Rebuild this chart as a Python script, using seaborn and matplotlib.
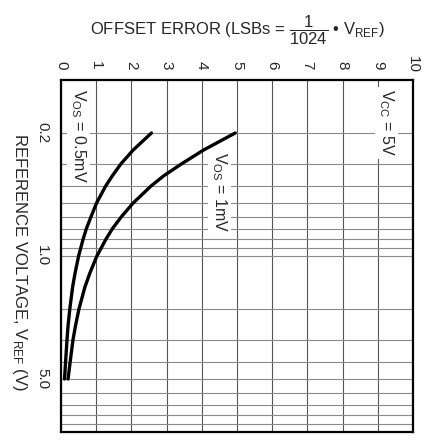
import matplotlib
matplotlib.use("Agg")
import matplotlib.pyplot as plt
import seaborn as sns
import pandas as pd

# ---- data ----
vref = [0.2, 0.25, 0.3, 0.35, 0.4, 0.5, 0.6, 0.7, 0.8, 1.0, 1.25, 1.5, 2.0, 2.5, 3.0, 4.0, 5.0]
err_05mv = [2.57, 2.05, 1.70, 1.46, 1.27, 1.01, 0.85, 0.72, 0.63, 0.50, 0.40, 0.33, 0.25, 0.20, 0.17, 0.13, 0.10]
err_1mv = [4.95, 4.05, 3.42, 2.92, 2.56, 2.05, 1.71, 1.46, 1.28, 1.02, 0.82, 0.68, 0.51, 0.41, 0.34, 0.26, 0.20]
x_ticks = [0, 1, 2, 3, 4, 5, 6, 7, 8, 9, 10]
y_grid = [0.2, 0.3, 0.4, 0.5, 0.6, 0.7, 0.8, 0.9, 1.0, 2, 3, 4, 5, 6, 7, 8, 9]
y_labeled = {0.2: "0.2", 1.0: "1.0", 5: "5.0"}

sns.set_style("white")
plt.rcParams["font.family"] = ["Liberation Sans", "DejaVu Sans"]
plt.rcParams["mathtext.fontset"] = "custom"
plt.rcParams["mathtext.rm"] = "Liberation Sans"
plt.rcParams["mathtext.it"] = "Liberation Sans"
plt.rcParams["mathtext.sf"] = "Liberation Sans"
plt.rcParams["mathtext.default"] = "regular"

df = pd.concat([
    pd.DataFrame({"vref": vref, "err": err_05mv, "s": "0.5mV"}),
    pd.DataFrame({"vref": vref, "err": err_1mv, "s": "1mV"}),
])

fig = plt.figure(figsize=(4.27, 4.42), dpi=100)
ax = fig.add_axes([61 / 427, 1 - 432 / 442, (413 - 61) / 427, (432 - 80) / 442])

sns.lineplot(data=df, x="err", y="vref", hue="s", palette=["black", "black"],
             sort=False, estimator=None, linewidth=2.4, legend=False, ax=ax, zorder=5)

ax.set_yscale("log")
ax.set_ylim(10, 0.1)
ax.set_xlim(0, 10)

ax.set_yticks(y_grid)
ax.set_yticklabels([y_labeled.get(v, "") for v in y_grid], rotation=270, fontsize=11,
                   va="center", ha="center")
ax.yaxis.set_minor_locator(matplotlib.ticker.NullLocator())
ax.tick_params(axis="y", length=0, pad=13.7)

ax.xaxis.tick_top()
ax.set_xticks(x_ticks)
ax.set_xticklabels([str(v) for v in x_ticks], rotation=270, fontsize=11, ha="center", va="center")
ax.tick_params(axis="x", length=0, pad=10.8)

ax.grid(axis="x", color="#555555", linewidth=0.8)
ax.grid(axis="y", color="#8a8a8a", linewidth=0.8)
for sp in ax.spines.values():
    sp.set_visible(True)
    sp.set_color("black")
    sp.set_linewidth(1.6)
    sp.set_zorder(6)

ax.set_xlabel("")
ax.set_ylabel("")
fig.text(237 / 427, 1 - 30 / 442,
         r"OFFSET ERROR (LSBs = $\dfrac{1}{1024}$ • V$_{REF}$)",
         ha="center", va="center", fontsize=12)
fig.text(19 / 427, 1 - 262 / 442, r"REFERENCE VOLTAGE, V$_{REF}$ (V)",
         rotation=270, ha="center", va="center", fontsize=12)

box = dict(facecolor="white", edgecolor="none", pad=1.5)
ax.text(9.25, 0.113, r"V$_{CC}$ = 5V", rotation=270, ha="center", va="top",
        fontsize=11.5, bbox=box, zorder=3)
ax.text(0.5, 0.113, r"V$_{OS}$ = 0.5mV", rotation=270, ha="center", va="top",
        fontsize=11.5, bbox=box, zorder=3)
ax.text(4.5, 0.255, r"V$_{OS}$ = 1mV", rotation=270, ha="center", va="top",
        fontsize=11.5, bbox=box, zorder=3)

fig.savefig("out.png", dpi=100)
